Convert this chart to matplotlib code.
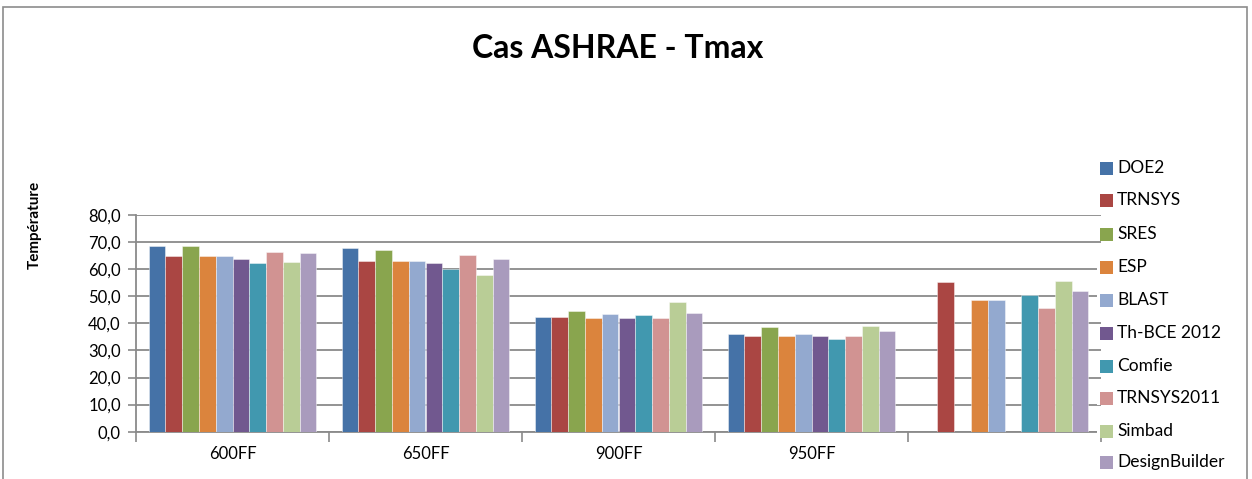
import numpy as np
import matplotlib
matplotlib.use("Agg")
import matplotlib.pyplot as plt
from matplotlib.patches import Rectangle

plt.rcParams['font.family'] = ['Lato', 'DejaVu Sans']

# data
categories = ['600FF', '650FF', '900FF', '950FF', '']
series = ['DOE2', 'TRNSYS', 'SRES', 'ESP', 'BLAST', 'Th-BCE 2012',
          'Comfie', 'TRNSYS2011', 'Simbad', 'DesignBuilder']
nan = np.nan
values = {
    'DOE2':          [68.6, 68.0, 42.3, 35.9, nan],
    'TRNSYS':        [64.8, 63.2, 42.3, 35.4, 55.2],
    'SRES':          [68.6, 66.9, 44.5, 38.6, nan],
    'ESP':           [64.8, 63.2, 41.8, 35.4, 48.7],
    'BLAST':         [64.8, 63.2, 43.4, 35.9, 48.8],
    'Th-BCE 2012':   [63.7, 62.1, 41.8, 35.4, nan],
    'Comfie':        [62.1, 59.9, 42.9, 34.4, 50.4],
    'TRNSYS2011':    [66.4, 65.4, 41.8, 35.4, 45.6],
    'Simbad':        [62.6, 57.8, 47.7, 39.1, 55.7],
    'DesignBuilder': [65.8, 63.7, 44.0, 37.1, 52.0],
}
colors = ['#4572A7', '#AA4643', '#89A54E', '#DB843D', '#93A9CF',
          '#71588F', '#4198AF', '#D19392', '#B9CD96', '#A99BBD']
yticks = [0, 10, 20, 30, 40, 50, 60, 70, 80]

W, H = 1252, 479
fig = plt.figure(figsize=(W / 100, H / 100), dpi=100)

# chart frame (bottom edge falls outside the picture)
fig.patches.append(Rectangle((3 / W, -0.1), 1244 / W, (H - 7) / H + 0.1,
                             transform=fig.transFigure, fill=False,
                             edgecolor='#8c8c8c', linewidth=1.2))

ax = fig.add_axes([136 / W, 47.3 / H, 965 / W, 216.7 / H])

n = len(series)
x = np.arange(len(categories))
group_w = 0.87
bw = group_w / n
for i, s in enumerate(series):
    offs = -group_w / 2 + bw * (i + 0.5)
    ax.bar(x + offs, values[s], width=bw, color=colors[i],
           edgecolor=(1, 1, 1, 0.5), linewidth=0.6, zorder=3)

ax.set_xlim(-0.5, len(categories) - 0.5)
ax.set_ylim(0, 80)
ax.set_yticks(yticks)
ax.set_yticklabels(['%d,0' % v for v in yticks], fontsize=12)
ax.yaxis.grid(True, color='#8a8a8a', linewidth=1.3, zorder=0)
ax.set_axisbelow(True)

ax.set_xticks(x)
ax.set_xticklabels(categories, fontsize=12)
ax.set_xticks(np.arange(len(categories) + 1) - 0.5, minor=True)
ax.tick_params(axis='x', which='major', length=0, pad=10)
ax.tick_params(axis='x', which='minor', length=7, color='#8a8a8a', width=1.2)
ax.tick_params(axis='y', length=6, color='#8a8a8a', width=1.2, pad=5)

for sp in ['top', 'right']:
    ax.spines[sp].set_visible(False)
for sp in ['left', 'bottom']:
    ax.spines[sp].set_color('#8a8a8a')
    ax.spines[sp].set_linewidth(1.3)

fig.text(618 / W, 1 - 48 / H, 'Cas ASHRAE - Tmax', ha='center', va='center',
         fontsize=23, fontweight='bold')
fig.text(35 / W, 1 - 225 / H, 'Température', ha='center', va='center',
         rotation=90, fontsize=11, fontweight='bold')

# legend on the right, drawn over the plot area
ys = [168, 200, 234, 267, 300, 333, 366, 398, 431, 462]
for i, s in enumerate(series):
    yc = 1 - ys[i] / H
    fig.patches.append(Rectangle((1097 / W, yc - 6.5 / H), 17 / W, 13 / H,
                                 transform=fig.transFigure, facecolor='white',
                                 edgecolor='none', zorder=5))
    fig.patches.append(Rectangle((1100 / W, yc - 6.5 / H), 13 / W, 13 / H,
                                 transform=fig.transFigure, facecolor=colors[i],
                                 edgecolor='none', zorder=6))
    fig.text(1117 / W, yc, s, ha='left', va='center', fontsize=12.5, zorder=6)

fig.savefig('out.png', dpi=100)
